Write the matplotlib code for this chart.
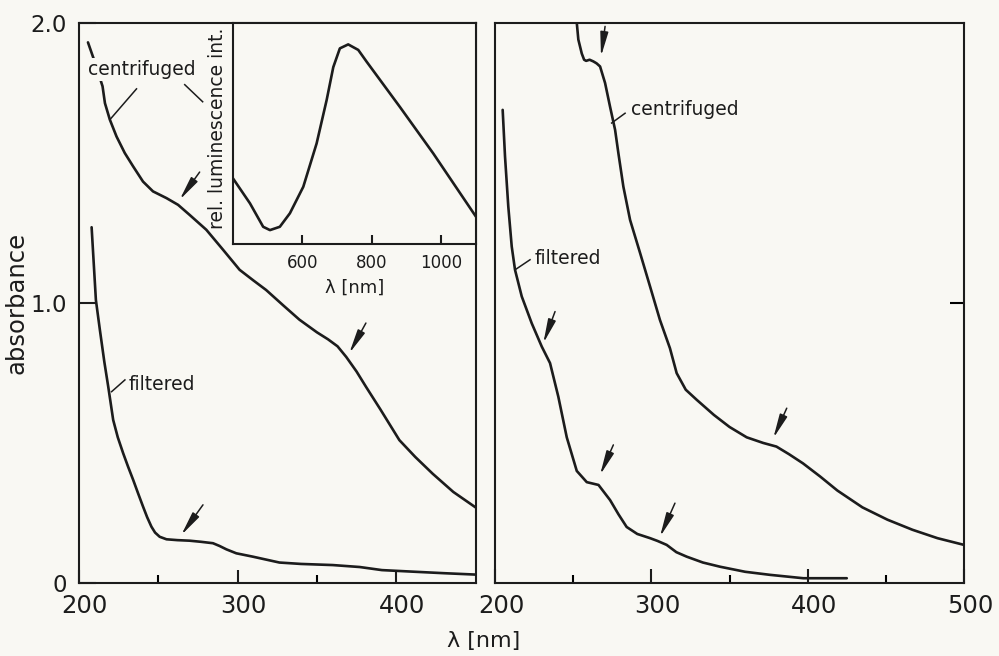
import matplotlib
matplotlib.use("Agg")
import matplotlib.pyplot as plt
from matplotlib.transforms import ScaledTranslation

# ---------------- data ----------------
left_cent_wl = [205.7, 210, 214.9, 216.4, 219.5, 223.7, 228.9, 234.2, 240.4, 246.7, 255.2, 262.5, 269.8,
                280.3, 290.8, 301.3, 310, 318, 329, 339, 350, 357, 363, 368.5, 375, 381, 390, 402, 412,
                423, 436, 450]
left_cent_abs = [1.93, 1.86, 1.773, 1.713, 1.654, 1.594, 1.535, 1.487, 1.433, 1.398, 1.374, 1.35, 1.314,
                 1.261, 1.19, 1.118, 1.08, 1.046, 0.99, 0.94, 0.895, 0.87, 0.845, 0.807, 0.755, 0.70, 0.62,
                 0.51, 0.45, 0.39, 0.325, 0.27]

left_filt_wl = [208, 210.7, 213.2, 216, 218.5, 221.6, 224.5, 227.9, 231, 234.2, 237.3, 240.4, 243, 245.7,
                248, 250.9, 255.2, 262, 269.8, 277, 284.5, 288.7, 293, 299.2, 309.6, 326.4, 340, 360, 377,
                391, 412, 430, 450]
left_filt_abs = [1.27, 1.01, 0.904, 0.79, 0.70, 0.582, 0.52, 0.463, 0.415, 0.368, 0.32, 0.273, 0.235, 0.201,
                 0.18, 0.165, 0.156, 0.153, 0.151, 0.147, 0.142, 0.132, 0.12, 0.106, 0.094, 0.073, 0.068,
                 0.064, 0.057, 0.046, 0.040, 0.035, 0.030]

right_cent_wl = [252.3, 253.3, 255.5, 257, 258.3, 260.5, 262.9, 265, 267.2, 270.4, 273.6, 276.8, 278.9,
                 282.1, 286.4, 292.8, 299.2, 305.5, 311.9, 316.2, 322, 329, 340, 350, 361, 371.5, 380,
                 388, 397, 408, 419, 435, 451, 467, 483, 500]
right_cent_abs = [2.0, 1.94, 1.89, 1.868, 1.864, 1.868, 1.862, 1.855, 1.844, 1.785, 1.70, 1.618, 1.535,
                  1.415, 1.296, 1.178, 1.058, 0.939, 0.838, 0.749, 0.69, 0.654, 0.60, 0.557, 0.52, 0.50,
                  0.487, 0.46, 0.427, 0.38, 0.33, 0.27, 0.226, 0.19, 0.16, 0.136]

right_filt_wl = [204.9, 206.4, 208.5, 210.7, 212.8, 217.1, 223.5, 229.9, 235.2, 240.5, 245.9, 252.3,
                 258.7, 266.2, 273.6, 279, 284.2, 291, 299.2, 304, 309.8, 316, 322.6, 333, 344, 360, 376,
                 397.2, 425]
right_filt_abs = [1.689, 1.523, 1.344, 1.201, 1.118, 1.023, 0.927, 0.844, 0.785, 0.665, 0.52, 0.40,
                  0.36, 0.35, 0.296, 0.245, 0.20, 0.175, 0.16, 0.15, 0.136, 0.11, 0.094, 0.073, 0.058,
                  0.04, 0.029, 0.017, 0.017]

inset_wl = [400, 449, 487, 506.6, 535, 564, 602.6, 641, 670, 689, 708, 732, 761, 785, 881, 977, 1100]
inset_int = [0.297, 0.184, 0.078, 0.063, 0.078, 0.139, 0.259, 0.455, 0.652, 0.80, 0.885, 0.903, 0.878,
             0.825, 0.62, 0.41, 0.124]

left_xticks = [200, 300, 400]
right_xticks = [200, 300, 400, 500]
yticks = [0, 1.0, 2.0]
ytick_labels = ["0", "1.0", "2.0"]
inset_xticks = [600, 800, 1000]

# annotation arrows (tail, tip) in data coordinates
left_arrows = [((276.1, 1.467), (263.5, 1.368)),
               ((380.9, 0.928), (370.4, 0.82)),
               ((278.2, 0.279), (264.5, 0.171))]
right_arrows = [((270.4, 1.987), (267.8, 1.88)),
                ((238.4, 0.969), (230.9, 0.856)),
                ((275.7, 0.493), (267.2, 0.386)),
                ((315.1, 0.285), (305.5, 0.165)),
                ((386.6, 0.624), (378.0, 0.517))]

# ---------------- styling ----------------
BG = "#f9f8f3"
INK = "#1c1c1c"
plt.rcParams["font.family"] = ["DejaVu Sans"]

fig = plt.figure(figsize=(9.99, 6.56), dpi=100, facecolor=BG)
axL = fig.add_axes([0.079, 0.1113, 0.397, 0.854], facecolor=BG)
axR = fig.add_axes([0.4955, 0.1113, 0.4695, 0.854], facecolor=BG)
axI = fig.add_axes([0.2332, 0.628, 0.2432, 0.337], facecolor=BG)

for ax in (axL, axR, axI):
    for s in ax.spines.values():
        s.set_linewidth(1.5)
        s.set_color(INK)

lw = 1.9
axL.plot(left_cent_wl, left_cent_abs, color=INK, lw=lw, solid_capstyle="round")
axL.plot(left_filt_wl, left_filt_abs, color=INK, lw=lw, solid_capstyle="round")
axR.plot(right_cent_wl, right_cent_abs, color=INK, lw=lw, solid_capstyle="round")
axR.plot(right_filt_wl, right_filt_abs, color=INK, lw=lw, solid_capstyle="round")
axI.plot(inset_wl, inset_int, color=INK, lw=lw, solid_capstyle="round")

# axes ranges
axL.set_xlim(200, 450)
axR.set_xlim(200, 500)
for ax in (axL, axR):
    ax.set_ylim(0, 2.0)
axI.set_xlim(400, 1100)
axI.set_ylim(0, 1.0)

# left ticks
axL.set_xticks(left_xticks)
axL.set_xticks([250, 350], minor=True)
axL.set_yticks(yticks)
axL.set_yticklabels(ytick_labels)
axL.tick_params(axis="x", which="major", direction="in", length=9.5, width=1.5, pad=8,
                labelsize=17.5, colors=INK)
axL.tick_params(axis="x", which="minor", direction="in", length=5.5, width=1.5)
axL.tick_params(axis="y", which="major", direction="in", length=12, width=1.5, pad=8.5,
                labelsize=16.5, colors=INK)

# right ticks
axR.set_xticks(right_xticks)
axR.set_xticks([250, 350, 450], minor=True)
axR.set_yticks([1.0])
axR.tick_params(axis="x", which="major", direction="in", length=10, width=1.5, pad=8,
                labelsize=17.5, colors=INK)
axR.tick_params(axis="x", which="minor", direction="in", length=5.5, width=1.5)
axR.tick_params(axis="y", which="major", direction="in", length=10, width=1.5,
                left=False, right=True, labelleft=False, labelright=False)

# x tick labels sit slightly right of their ticks in the original
shift = ScaledTranslation(6 / 100, 0, fig.dpi_scale_trans)
for ax in (axL, axR):
    for lab in ax.get_xticklabels():
        lab.set_transform(lab.get_transform() + shift)

# inset ticks
axI.set_xticks(inset_xticks)
axI.set_yticks([])
axI.tick_params(axis="x", direction="in", length=6.5, width=1.5, pad=7, labelsize=12, colors=INK)
axI.set_xlabel("λ [nm]", fontsize=13, labelpad=5, color=INK)
axI.set_ylabel("rel. luminescence int.", fontsize=13.5, color=INK)
axI.yaxis.set_label_coords(-0.024, 0.525)

# figure labels
fig.text(17 / 999, 1 - 303 / 656, "absorbance", rotation=90, ha="center", va="center",
         fontsize=17.5, color=INK)
fig.text(484 / 999, 1 - 641 / 656, "λ [nm]", ha="center", va="center", fontsize=16, color=INK)

# curve labels and leader lines
tfs = 13.5
axL.text(239.6, 1.832, "centrifuged", ha="center", va="center", fontsize=tfs, color=INK,
         bbox=dict(facecolor=BG, edgecolor="none", pad=1.5))
axL.plot([236.3, 219.5], [1.764, 1.654], color=INK, lw=1.1)
axL.plot([266.7, 278.0], [1.779, 1.718], color=INK, lw=1.1)
axL.text(252.5, 0.709, "filtered", ha="center", va="center", fontsize=tfs, color=INK)
axL.plot([220.6, 229.0], [0.683, 0.725], color=INK, lw=1.1)

axR.text(321.5, 1.689, "centrifuged", ha="center", va="center", fontsize=tfs, color=INK)
axR.plot([274.6, 283.2], [1.642, 1.677], color=INK, lw=1.1)
axR.text(246.9, 1.157, "filtered", ha="center", va="center", fontsize=tfs, color=INK)
axR.plot([212.8, 222.4], [1.118, 1.154], color=INK, lw=1.1)

# arrows
astyle = dict(arrowstyle="-|>,head_length=1.45,head_width=0.24", color=INK, lw=1.1,
              shrinkA=0, shrinkB=0, mutation_scale=10)
for ax, arrows in ((axL, left_arrows), (axR, right_arrows)):
    for tail, tip in arrows:
        ax.annotate("", xy=tip, xytext=tail, arrowprops=astyle)

fig.savefig("out.png", dpi=100, facecolor=BG)
